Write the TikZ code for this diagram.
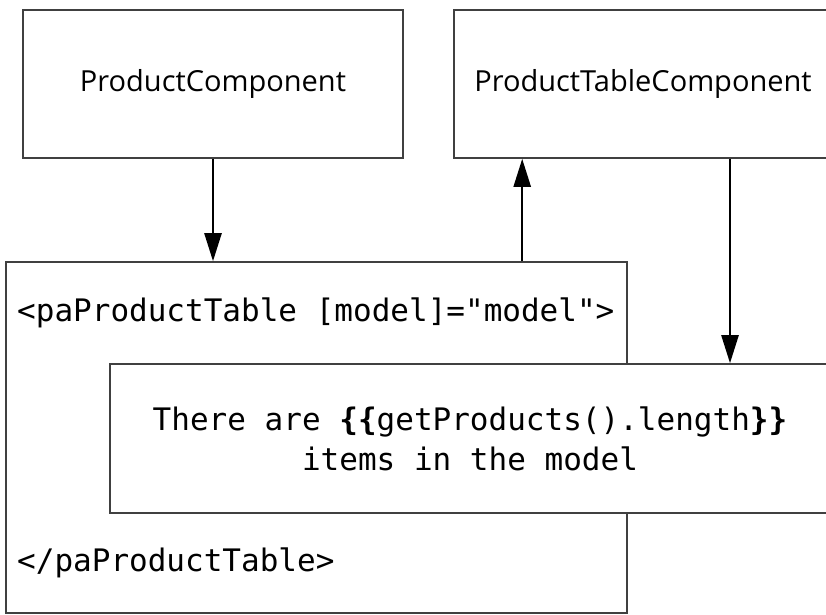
\documentclass[tikz,border=0pt]{standalone}
\usepackage{fontspec}
\setmainfont{Open Sans}
\newfontfamily\codefont{DejaVu Sans Mono}
\usepackage{tikz}
\usetikzlibrary{arrows.meta}

\begin{document}
\begin{tikzpicture}[x=1pt, y=-1pt,
    box/.style={draw=black!75, line width=1.6pt, fill=white, inner sep=0pt},
    comp/.style={box, minimum width=380pt, minimum height=148pt,
                 font=\fontsize{29}{35}\selectfont},
    code/.style={font=\codefont\fontsize{31}{40}\selectfont, inner sep=0pt},
    arr/.style={-{Triangle[length=28pt,width=17pt]}, line width=2.4pt}
]
\useasboundingbox (0,0) rectangle (826,614);

% component boxes (top row)
\node[comp] (pc)  at (213,84) {ProductComponent};
\node[comp, minimum width=378pt] (ptc) at (643,84) {ProductTableComponent};

% outer template box
\node[box, minimum width=621pt, minimum height=351pt] (outer) at (316.5,437.5) {};
\node[code, anchor=west] (open)  at (17,313) {<paProductTable [model]="model">};
\node[code, anchor=west] (close) at (17,563) {</paProductTable>};

% inner template box (drawn over the outer one)
\node[box, code, minimum width=720pt, minimum height=149pt, align=center] (inner)
    at (470,438.5) {There are {\bfseries\{\{}getProducts().length{\bfseries\}\}}\\items in the model};

% connectors
\draw[arr] (pc.south) -- (pc.south |- outer.north);
\draw[arr] ([xshift=69pt]ptc.south west |- outer.north) -- ([xshift=69pt]ptc.south west);
\draw[arr] ([xshift=87pt]ptc.south) -- ([xshift=87pt]ptc.south |- inner.north);

\end{tikzpicture}
\end{document}
